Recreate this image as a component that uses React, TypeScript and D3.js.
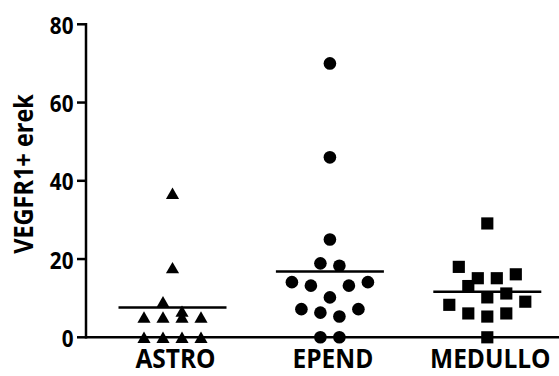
import React, { useEffect, useRef } from 'react';
import * as d3 from 'd3';

// groups, in the column order used by the scatter layout
const categories = ['ASTRO', 'EPEND', 'MEDULLO'];
const astroValues = [5.2, 5.2, 5.2, 5.2, 0, 0, 0, 0, 9.1, 6.7, 17.8, 36.8];
const ependValues = [0, 0, 7.2, 6.3, 5.3, 7.2, 14.1, 13.2, 10.2, 13.2, 14.1, 18.9, 18.3, 25, 46, 70];
const medulloValues = [0, 8.3, 13.1, 10.2, 11.2, 9.1, 6.1, 5.3, 6.1, 18, 15.1, 15.1, 16.1, 29.1];
const yTicks = [0, 20, 40, 60, 80];
const yLabel = 'VEGFR1+ erek';

const W = 559;
const H = 376;
const FONT = '"Open Sans", "DejaVu Sans", sans-serif';

// Prism style rows: consecutive points go in one row while the value span stays small
function scatterRows(values: number[], span: number) {
  const rows: number[][] = [];
  let cur: number[] = [];
  values.forEach(v => {
    if (cur.length && Math.max(d3.max(cur)!, v) - Math.min(d3.min(cur)!, v) > span) {
      rows.push(cur);
      cur = [];
    }
    cur.push(v);
  });
  if (cur.length) rows.push(cur);
  const out: { v: number; k: number }[] = [];
  rows.forEach(r => r.forEach((v, i) => out.push({ v, k: i - (r.length - 1) / 2 })));
  return out;
}

const App = () => {
  const svgRef = useRef<SVGSVGElement>(null);

  useEffect(() => {
    const svg = d3.select(svgRef.current);
    svg.selectAll('*').remove();

    const axisX = 86;
    const y = d3.scaleLinear().domain([0, 80]).range([337.3, 24.3]);
    const x = d3.scalePoint<string>().domain(categories).range([172.5, 487.3]);
    const step = 19;

    const groups = [
      { name: 'ASTRO', values: astroValues, symbol: d3.symbolTriangle, size: 75 },
      { name: 'EPEND', values: ependValues, symbol: d3.symbolCircle, size: 125 },
      { name: 'MEDULLO', values: medulloValues, symbol: d3.symbolSquare, size: 148 },
    ];

    // axes
    svg.append('line')
      .attr('x1', axisX).attr('x2', W)
      .attr('y1', y(0)).attr('y2', y(0))
      .attr('stroke', '#000').attr('stroke-width', 2.5);
    svg.append('line')
      .attr('x1', axisX).attr('x2', axisX)
      .attr('y1', y(80) - 1.2).attr('y2', y(0) + 1.2)
      .attr('stroke', '#000').attr('stroke-width', 2.5);

    const ticks = svg.append('g');
    ticks.selectAll('line')
      .data(yTicks)
      .enter()
      .append('line')
      .attr('x1', axisX - 9).attr('x2', axisX)
      .attr('y1', d => y(d)).attr('y2', d => y(d))
      .attr('stroke', '#000').attr('stroke-width', 2.5);
    ticks.selectAll('text')
      .data(yTicks)
      .enter()
      .append('text')
      .attr('transform', d => `translate(73.5, ${y(d) + 9.5}) scale(0.88, 1)`)
      .attr('text-anchor', 'end')
      .attr('font-family', FONT)
      .attr('font-weight', 700)
      .attr('font-size', 23.5)
      .text(d => d);

    svg.append('text')
      .attr('transform', `translate(33, 174) rotate(-90) scale(0.87, 1)`)
      .attr('text-anchor', 'middle')
      .attr('font-family', FONT)
      .attr('font-weight', 700)
      .attr('font-size', 27)
      .text(yLabel);

    // category labels sit at the bottom edge, kept just inside it
    svg.append('g').selectAll('text')
      .data(categories)
      .enter()
      .append('text')
      .attr('transform', d => `translate(${x(d)! + 3}, 368) scale(0.89, 1)`)
      .attr('text-anchor', 'middle')
      .attr('font-family', FONT)
      .attr('font-weight', 700)
      .attr('font-size', 27.5)
      .text(d => d);

    // points and mean lines
    groups.forEach(grp => {
      const cx = x(grp.name)!;
      const pts = scatterRows(grp.values, 5);
      const path = d3.symbol().type(grp.symbol).size(grp.size);
      // triangle: centre its bounding box on the value
      const dy = grp.symbol === d3.symbolTriangle ? Math.sqrt(grp.size / (3 * Math.sqrt(3))) / 2 : 0;
      svg.append('g').selectAll('path')
        .data(pts)
        .enter()
        .append('path')
        .attr('d', path()!)
        .attr('transform', d => `translate(${cx + d.k * step}, ${y(d.v) + dy})`)
        .attr('fill', '#000');

      const m = d3.mean(grp.values)!;
      svg.append('line')
        .attr('x1', cx - 54).attr('x2', cx + 54)
        .attr('y1', y(m)).attr('y2', y(m))
        .attr('stroke', '#000').attr('stroke-width', 2.5);
    });
  }, []);

  return (
    <svg
      ref={svgRef}
      width={W}
      height={H}
      style={{ position: 'absolute', left: 0, top: 0, background: '#fff' }}
    />
  );
};

export default App;
